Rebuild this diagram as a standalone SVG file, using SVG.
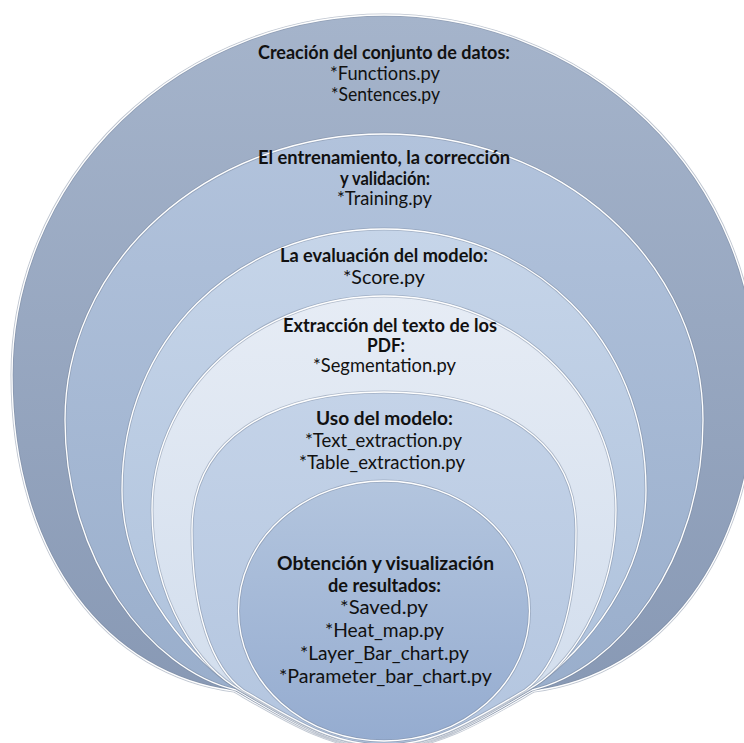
<svg xmlns="http://www.w3.org/2000/svg" width="744" height="743" viewBox="0 0 744 743">
  <style>
    .ring-edge { fill: none; stroke: #7d8ba2; stroke-width: 3; stroke-opacity: 0.5; stroke-linejoin: round; }
    .ring-line { fill: none; stroke: #ffffff; stroke-width: 1.3; stroke-linejoin: round; }
    text { font-family: Lato, "Open Sans", "Liberation Sans", sans-serif; fill: #111111; text-anchor: middle; font-size: 18.5px; }
    .head { font-weight: bold; font-size: 18px; }
  </style>
  <defs>
    <linearGradient id="g1" x1="0" y1="0" x2="0" y2="1">
      <stop offset="0" stop-color="#a5b4cb"/>
      <stop offset="1" stop-color="#8697b3"/>
    </linearGradient>
    <linearGradient id="g2" x1="0" y1="0" x2="0" y2="1">
      <stop offset="0" stop-color="#b2c3dc"/>
      <stop offset="1" stop-color="#97acca"/>
    </linearGradient>
    <linearGradient id="g3" x1="0" y1="0" x2="0" y2="1">
      <stop offset="0" stop-color="#c6d5e9"/>
      <stop offset="1" stop-color="#abbfda"/>
    </linearGradient>
    <linearGradient id="g4" x1="0" y1="0" x2="0" y2="1">
      <stop offset="0" stop-color="#e6ecf5"/>
      <stop offset="1" stop-color="#d0dcec"/>
    </linearGradient>
    <linearGradient id="g5" x1="0" y1="0" x2="0" y2="1">
      <stop offset="0" stop-color="#c4d3e8"/>
      <stop offset="1" stop-color="#b3c5df"/>
    </linearGradient>
    <linearGradient id="g6" x1="0" y1="0" x2="0" y2="1">
      <stop offset="0" stop-color="#b3c5de"/>
      <stop offset="1" stop-color="#95acd0"/>
    </linearGradient>
    <!-- stage outlines, widest first; each narrows into the shared bottom point -->
    <path id="shape1" d="M 384 749 C 330 749 284 720 234 691 C 110 675 12 560 12 375 A 372 360 0 0 1 384 15 A 372 360 0 0 1 756 375 C 756 560 658 675 534 691 C 484 720 438 749 384 749 Z"/>
    <path id="shape2" d="M 384 748 C 330 748 286 719 236 690 C 150 670 65 560 65 420 A 319 286 0 0 1 384 134 A 319 286 0 0 1 703 420 C 703 560 618 670 532 690 C 482 719 438 748 384 748 Z"/>
    <path id="shape3" d="M 384 747 C 330 747 288 718 238 689 C 200 665 122 590 122 490 C 122 340 235 229 384 229 C 533 229 646 340 646 490 C 646 590 568 665 530 689 C 480 718 438 747 384 747 Z"/>
    <path id="shape4" d="M 384 746 C 332 746 291 718 241 690 C 200 670 152 600 152 510 A 232 214 0 0 1 384 296 A 232 214 0 0 1 616 510 C 616 600 568 670 527 690 C 477 718 436 746 384 746 Z"/>
    <path id="shape5" d="M 384 745 C 332 745 293 719 243 690 C 212 668 192 612 192 530 C 192 440 270 392 384 392 C 498 392 576 440 576 530 C 576 612 556 668 525 690 C 475 719 436 745 384 745 Z"/>
    <ellipse id="shape6" cx="384" cy="611" rx="145.5" ry="130"/>
  </defs>

  <rect width="744" height="743" fill="#ffffff"/>

  <!-- outermost stage -->
  <g id="stage-dataset">
    <use href="#shape1" fill="url(#g1)"/>
    <use href="#shape1" class="ring-edge"/>
    <use href="#shape1" class="ring-line"/>
    <text class="head" x="384" y="59" textLength="252" lengthAdjust="spacingAndGlyphs">Creación del conjunto de datos:</text>
    <text x="385" y="80" textLength="110" lengthAdjust="spacingAndGlyphs">*Functions.py</text>
    <text x="385.5" y="101" textLength="109" lengthAdjust="spacingAndGlyphs">*Sentences.py</text>
  </g>

  <g id="stage-training">
    <use href="#shape2" fill="url(#g2)"/>
    <use href="#shape2" class="ring-edge"/>
    <use href="#shape2" class="ring-line"/>
    <text class="head" x="384" y="164" textLength="252" lengthAdjust="spacingAndGlyphs">El entrenamiento, la corrección</text>
    <text class="head" x="385" y="185" textLength="90" lengthAdjust="spacingAndGlyphs">y validación:</text>
    <text x="384.5" y="205" textLength="95" lengthAdjust="spacingAndGlyphs">*Training.py</text>
  </g>

  <g id="stage-score">
    <use href="#shape3" fill="url(#g3)"/>
    <use href="#shape3" class="ring-edge"/>
    <use href="#shape3" class="ring-line"/>
    <text class="head" x="384" y="262" textLength="208" lengthAdjust="spacingAndGlyphs">La evaluación del modelo:</text>
    <text x="384" y="284" textLength="82" lengthAdjust="spacingAndGlyphs">*Score.py</text>
  </g>

  <g id="stage-segmentation">
    <use href="#shape4" fill="url(#g4)"/>
    <use href="#shape4" class="ring-edge"/>
    <use href="#shape4" class="ring-line"/>
    <text class="head" x="390" y="332" textLength="214" lengthAdjust="spacingAndGlyphs">Extracción del texto de los</text>
    <text class="head" x="386" y="352" textLength="38" lengthAdjust="spacingAndGlyphs">PDF:</text>
    <text x="384.5" y="372" textLength="143" lengthAdjust="spacingAndGlyphs">*Segmentation.py</text>
  </g>

  <g id="stage-model-use">
    <use href="#shape5" fill="url(#g5)"/>
    <use href="#shape5" class="ring-edge"/>
    <use href="#shape5" class="ring-line"/>
    <text class="head" x="384.5" y="425" textLength="137" lengthAdjust="spacingAndGlyphs">Uso del modelo:</text>
    <text x="383.5" y="447" textLength="157" lengthAdjust="spacingAndGlyphs">*Text_extraction.py</text>
    <text x="382" y="469" textLength="166" lengthAdjust="spacingAndGlyphs">*Table_extraction.py</text>
  </g>

  <!-- innermost stage -->
  <g id="stage-results">
    <use href="#shape6" fill="url(#g6)"/>
    <use href="#shape6" class="ring-edge"/>
    <use href="#shape6" class="ring-line"/>
    <text class="head" x="385.5" y="570" textLength="217" lengthAdjust="spacingAndGlyphs">Obtención y visualización</text>
    <text class="head" x="384.5" y="592" textLength="113" lengthAdjust="spacingAndGlyphs">de resultados:</text>
    <text x="384" y="614" textLength="88" lengthAdjust="spacingAndGlyphs">*Saved.py</text>
    <text x="384.5" y="637" textLength="119" lengthAdjust="spacingAndGlyphs">*Heat_map.py</text>
    <text x="384.5" y="660" textLength="169" lengthAdjust="spacingAndGlyphs">*Layer_Bar_chart.py</text>
    <text x="385.5" y="683" textLength="213" lengthAdjust="spacingAndGlyphs">*Parameter_bar_chart.py</text>
  </g>
</svg>
